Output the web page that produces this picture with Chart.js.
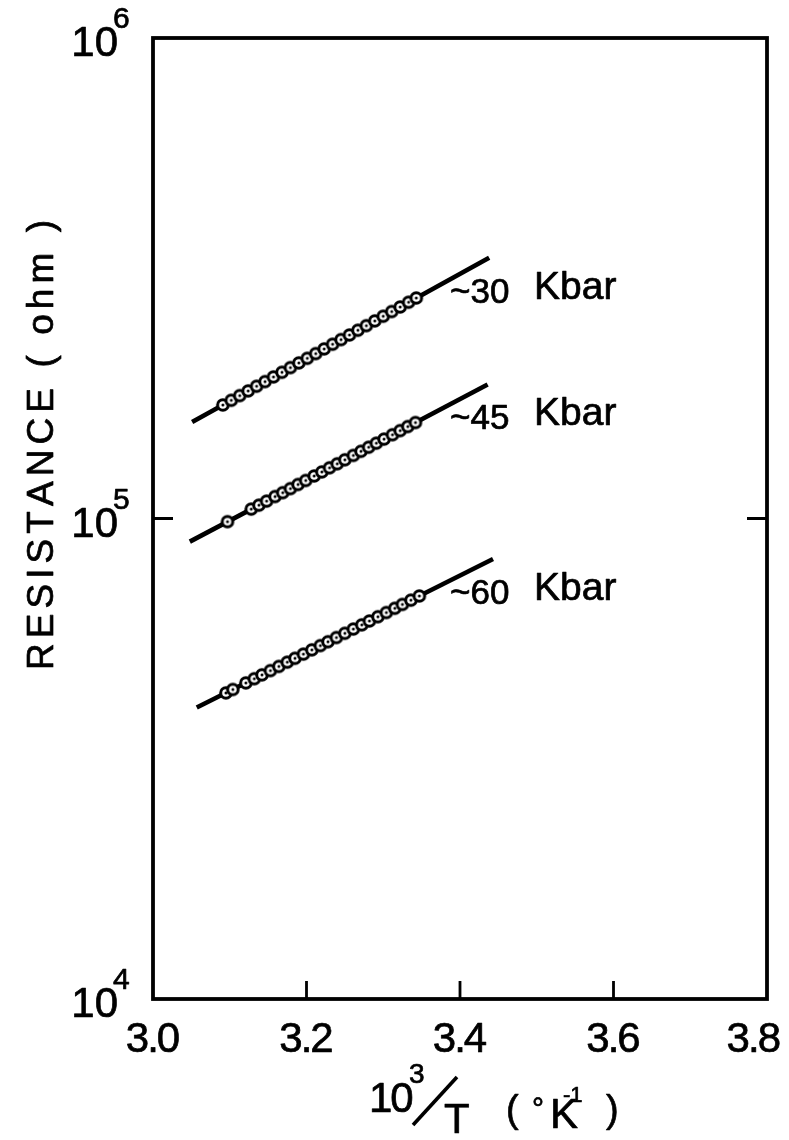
<!DOCTYPE html>
<html>
<head>
<meta charset="utf-8">
<script src="https://cdn.jsdelivr.net/npm/chart.js@4.4.0/dist/chart.umd.min.js"></script>
<style>
  html, body { margin: 0; padding: 0; background: #fff; }
  #wrap { width: 789px; height: 1140px; position: relative; }
</style>
</head>
<body>
<div id="wrap"><canvas id="c" width="789" height="1140"></canvas></div>
<script>
// Inverse temperature 10^3/T (1/K) and measured resistance (ohm) at three pressures
const x30 = [3.091, 3.102, 3.113, 3.124, 3.135, 3.146, 3.157, 3.168, 3.179, 3.190, 3.201, 3.212,
             3.223, 3.234, 3.245, 3.256, 3.267, 3.278, 3.289, 3.300, 3.311, 3.322, 3.333, 3.343];
const r30 = [172300, 176200, 180200, 184300, 188500, 192700, 197100, 201500, 206100, 210800, 215500, 220400,
             225400, 230500, 235700, 241000, 246500, 252000, 257800, 263600, 269600, 275600, 281900, 287700];

const x45 = [3.097, 3.128, 3.138, 3.148, 3.159, 3.169, 3.179, 3.189, 3.199, 3.210, 3.220, 3.230,
             3.240, 3.250, 3.261, 3.271, 3.281, 3.291, 3.301, 3.312, 3.322, 3.332, 3.342];
const r45 = [98500, 104600, 106600, 108700, 111100, 113200, 115400, 117700, 120000, 122600, 125000, 127500,
             130000, 132500, 135300, 138000, 140700, 143500, 146300, 149400, 152400, 155400, 158400];

const x60 = [3.095, 3.104, 3.121, 3.132, 3.142, 3.153, 3.164, 3.175, 3.185, 3.196, 3.207, 3.218,
             3.228, 3.239, 3.250, 3.261, 3.272, 3.282, 3.293, 3.304, 3.315, 3.325, 3.336, 3.347];
const r60 = [43350, 44070, 45480, 46410, 47270, 48240, 49230, 50230, 51180, 52220, 53290, 54380,
             55400, 56530, 57690, 58880, 60080, 61200, 62450, 63730, 65030, 66250, 67610, 68990];

// Straight-line fits (end points) through each pressure run
const fit30X = [3.051, 3.438];
const fit30R = [158800, 349000];
const fit45X = [3.048, 3.436];
const fit45R = [89500, 190100];
const fit60X = [3.057, 3.443];
const fit60R = [40430, 82380];

const pressureNumbers = ['~30', '~45', '~60'];
const pressureUnit = 'Kbar';

// Axis ticks
const xTickValues = [3.0, 3.2, 3.4, 3.6, 3.8];
const xTickLabels = ['3.0', '3.2', '3.4', '3.6', '3.8'];
const xInnerTicks = [3.2, 3.4, 3.6];
const yTickExponents = [4, 5, 6];
const yInnerTicks = [1e5];

const FONT = '"Liberation Sans", Arial, sans-serif';

function toPoints(xs, ys) {
  return xs.map((v, i) => ({ x: v, y: ys[i] }));
}

// Open circle with a dot in its centre, used for every measured point
function ringMarker() {
  const c = document.createElement('canvas');
  c.width = 16; c.height = 16;
  const g = c.getContext('2d');
  g.beginPath();
  g.arc(8, 8, 5.3, 0, Math.PI * 2);
  g.fillStyle = '#fff';
  g.fill();
  g.lineWidth = 3;
  g.strokeStyle = '#000';
  g.stroke();
  g.beginPath();
  g.arc(8, 8, 1.5, 0, Math.PI * 2);
  g.fillStyle = '#000';
  g.fill();
  return c;
}

// Slightly heavier lettering: fill plus a hairline stroke
function put(ctx, s, x, y) {
  ctx.fillText(s, x, y);
  ctx.strokeText(s, x, y);
}

// Text drawn glyph by glyph with adjustable tracking
function drawTracked(ctx, text, x, y, tracking, align) {
  const chars = Array.from(text);
  const widths = chars.map(ch => ctx.measureText(ch).width);
  const total = widths.reduce((s, w) => s + w, 0) + tracking * (chars.length - 1);
  let cx = x;
  if (align === 'center') cx = x - total / 2;
  else if (align === 'right') cx = x - total;
  const saved = ctx.textAlign;
  ctx.textAlign = 'left';
  chars.forEach((ch, i) => {
    put(ctx, ch, cx, y);
    cx += widths[i] + tracking;
  });
  ctx.textAlign = saved;
  return total;
}

function trackedWidth(ctx, text, tracking) {
  const chars = Array.from(text);
  return chars.reduce((s, ch) => s + ctx.measureText(ch).width, 0) + tracking * (chars.length - 1);
}

function fitWidthTracking(ctx, text, target) {
  const chars = Array.from(text);
  const natural = chars.reduce((s, ch) => s + ctx.measureText(ch).width, 0);
  return (target - natural) / (chars.length - 1);
}

const decorations = {
  id: 'decorations',
  afterDraw(chart) {
    const { ctx, chartArea: a, scales: { x, y } } = chart;
    const W = chart.width;
    ctx.save();
    ctx.strokeStyle = '#000';
    ctx.fillStyle = '#000';
    ctx.lineCap = 'butt';

    // Frame
    ctx.lineWidth = 3.8;
    ctx.strokeRect(a.left, a.top, a.right - a.left, a.bottom - a.top);

    // Inward tick marks
    ctx.lineWidth = 2.8;
    ctx.beginPath();
    xInnerTicks.forEach(v => {
      const px = x.getPixelForValue(v);
      ctx.moveTo(px, a.bottom);
      ctx.lineTo(px, a.bottom - 18);
    });
    yInnerTicks.forEach(v => {
      const py = y.getPixelForValue(v);
      ctx.moveTo(a.left, py);
      ctx.lineTo(a.left + 20, py);
      ctx.moveTo(a.right, py);
      ctx.lineTo(a.right - 20, py);
    });
    ctx.stroke();

    ctx.lineWidth = 0.7;
    ctx.lineJoin = 'round';

    // x tick labels, kept inside the canvas at the right edge
    ctx.font = '42px ' + FONT;
    ctx.textBaseline = 'alphabetic';
    xTickValues.forEach((v, i) => {
      let px = x.getPixelForValue(v);
      const w = trackedWidth(ctx, xTickLabels[i], -2);
      if (px + w / 2 > W - 8) px = W - 8 - w / 2;
      drawTracked(ctx, xTickLabels[i], px, a.bottom + 53, -2, 'center');
    });

    // y tick labels: 10 with a raised exponent
    yTickExponents.forEach(e => {
      const py = y.getPixelForValue(Math.pow(10, e));
      const base = py + 18;
      ctx.font = '42px ' + FONT;
      ctx.textAlign = 'right';
      put(ctx, '10', 118, base);
      ctx.font = '30px ' + FONT;
      ctx.textAlign = 'left';
      put(ctx, String(e), 113, base - 28);
    });

    // y axis title
    ctx.save();
    ctx.translate(53, 445);
    ctx.rotate(-Math.PI / 2);
    ctx.font = '37px ' + FONT;
    const yTitle = 'RESISTANCE ( ohm )';
    drawTracked(ctx, yTitle, 0, 0, fitWidthTracking(ctx, yTitle, 450), 'center');
    ctx.restore();

    // x axis title: 10^3 / T  ( °K^-1 )
    ctx.textAlign = 'left';
    ctx.font = '42px ' + FONT;
    drawTracked(ctx, '10', 369, 1112, -2, 'left');
    ctx.font = '28px ' + FONT;
    put(ctx, '3', 409, 1083);
    ctx.lineWidth = 3.6;
    ctx.beginPath();
    ctx.moveTo(413, 1125);
    ctx.lineTo(457, 1077);
    ctx.stroke();
    ctx.lineWidth = 0.7;
    ctx.font = '42px ' + FONT;
    put(ctx, 'T', 444, 1133);
    ctx.font = '38px ' + FONT;
    put(ctx, '(', 506, 1122);
    ctx.font = '30px ' + FONT;
    put(ctx, '°', 532, 1118);
    ctx.font = '42px ' + FONT;
    put(ctx, 'K', 550, 1128);
    ctx.font = '22px ' + FONT;
    put(ctx, '-1', 563, 1102);
    ctx.font = '38px ' + FONT;
    put(ctx, ')', 606, 1122);

    // Pressure labels beside the upper end of each fit line
    const fits = [[fit30X, fit30R], [fit45X, fit45R], [fit60X, fit60R]];
    fits.forEach((f, i) => {
      const endY = y.getPixelForValue(f[1][1]);
      const left = x.getPixelForValue(3.3896);
      ctx.font = '35px ' + FONT;
      put(ctx, pressureNumbers[i], left - 2, endY + 45);
      ctx.font = '39px ' + FONT;
      put(ctx, pressureUnit, left + 82, endY + 41);
    });

    ctx.restore();
  }
};

const marker = ringMarker();

function pointSet(xs, ys) {
  return {
    data: toPoints(xs, ys),
    pointStyle: marker,
    pointRadius: 7,
    showLine: false,
    order: 1
  };
}

function fitSet(xs, ys) {
  return {
    data: toPoints(xs, ys),
    showLine: true,
    borderColor: '#000',
    borderWidth: 4.6,
    borderCapStyle: 'butt',
    pointRadius: 0,
    fill: false,
    order: 2
  };
}

new Chart(document.getElementById('c').getContext('2d'), {
  type: 'scatter',
  data: {
    datasets: [
      pointSet(x30, r30),
      pointSet(x45, r45),
      pointSet(x60, r60),
      fitSet(fit30X, fit30R),
      fitSet(fit45X, fit45R),
      fitSet(fit60X, fit60R)
    ]
  },
  options: {
    responsive: false,
    animation: false,
    devicePixelRatio: 1,
    layout: { padding: { left: 153, right: 22, top: 38, bottom: 141 } },
    plugins: { legend: { display: false }, tooltip: { enabled: false } },
    scales: {
      x: { type: 'linear', min: 3.0, max: 3.8, display: false },
      y: { type: 'logarithmic', min: 1e4, max: 1e6, display: false }
    }
  },
  plugins: [decorations]
});
</script>
</body>
</html>
